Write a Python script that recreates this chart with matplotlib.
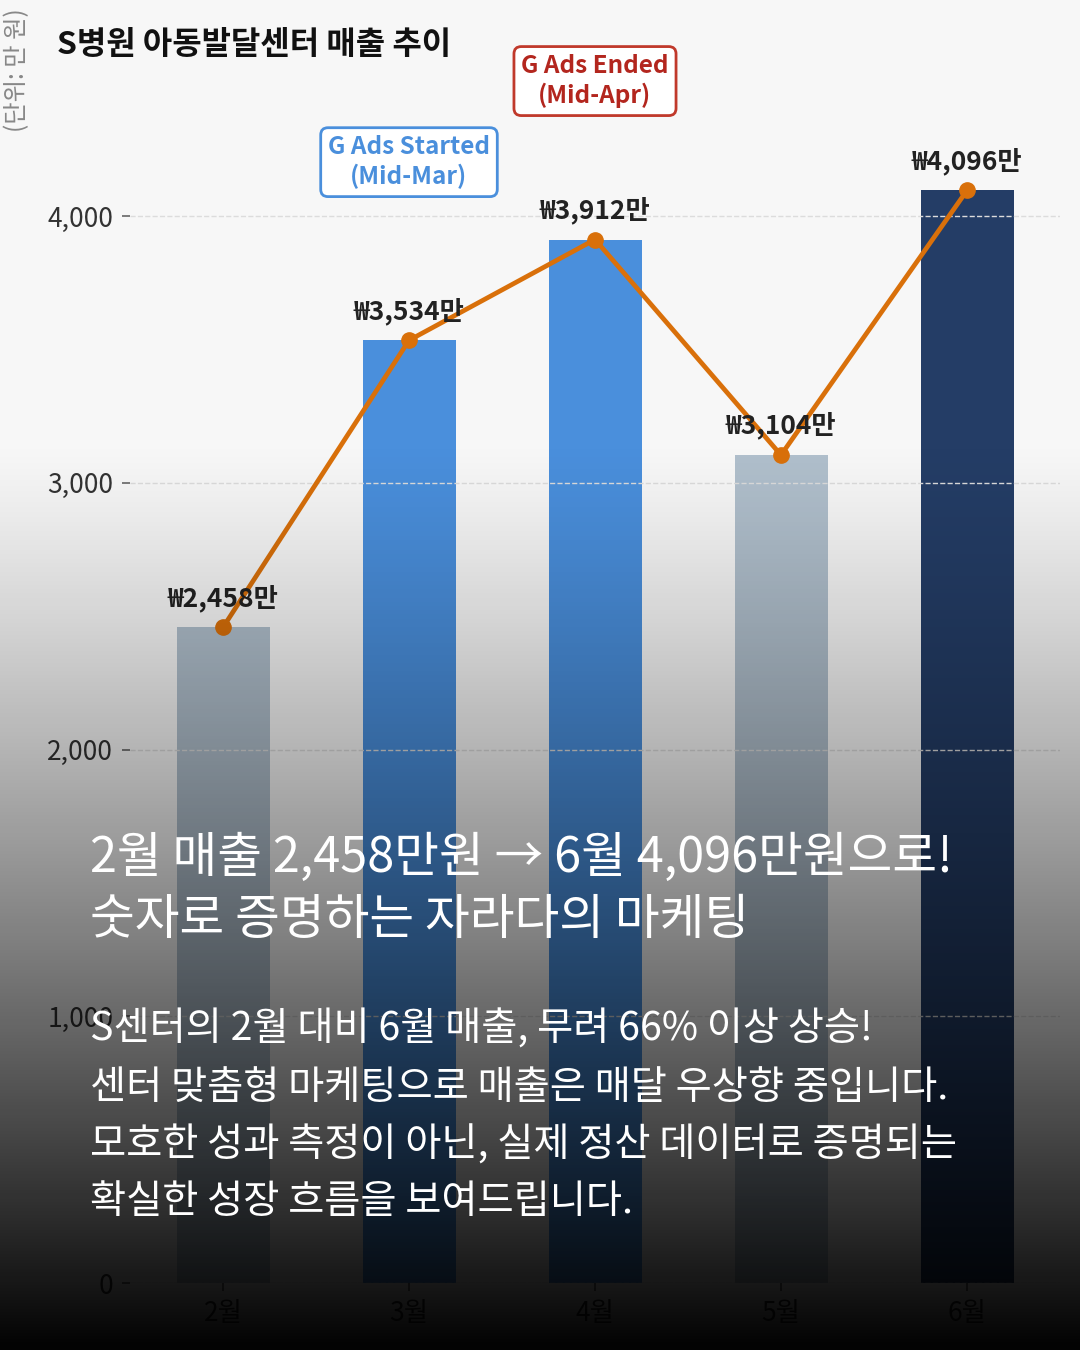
import numpy as np
import matplotlib
matplotlib.use("Agg")
import matplotlib.pyplot as plt

plt.rcParams['font.family'] = ['Noto Sans CJK KR', 'DejaVu Sans']

# 데이터 (단위: 만 원)
months = ['2월', '3월', '4월', '5월', '6월']
sales = [2458, 3534, 3912, 3104, 4096]
bar_colors = ['#b0bfcc', '#4a8fdc', '#4a8fdc', '#b0bfcc', '#243d66']
yticks = [0, 1000, 2000, 3000, 4000]

W, H = 1080, 1350
BG = '#f7f7f7'

fig = plt.figure(figsize=(W / 100, H / 100), dpi=100, facecolor=BG)
ax = fig.add_axes([130 / W, 67 / H, 930 / W, 1227 / H], facecolor=BG)

x = np.arange(len(months))
ax.bar(x, sales, width=0.5, color=bar_colors, zorder=2)
ax.plot(x, sales, color='#d9700a', lw=3.4, marker='o', ms=11, zorder=4)

for xi, v in zip(x, sales):
    ax.annotate(f'₩{v:,}만', (xi, v), xytext=(0, 21), textcoords='offset points',
                ha='center', va='center', fontsize=19, fontweight='bold',
                color='#222222', zorder=5)

# 광고 시작/종료 박스
ax.text(1, 4202, 'G Ads Started\n(Mid-Mar)', ha='center', va='center',
        fontsize=17.5, fontweight='bold', color='#4a8fdc', linespacing=1.25,
        bbox=dict(boxstyle='round,pad=0.3', fc='white', ec='#4a8fdc', lw=2), zorder=6)
ax.text(2, 4506, 'G Ads Ended\n(Mid-Apr)', ha='center', va='center',
        fontsize=17.5, fontweight='bold', color='#b3261e', linespacing=1.25,
        bbox=dict(boxstyle='round,pad=0.3', fc='white', ec='#c0392b', lw=2), zorder=6)

ax.set_xlim(-0.5, 4.5)
ax.set_ylim(0, 4600)
ax.set_xticks(x)
ax.set_xticklabels(months, fontsize=19, color='#333333')
ax.set_yticks(yticks)
ax.set_yticklabels([f'{t:,}' for t in yticks], fontsize=19, color='#333333')
ax.tick_params(axis='both', length=6, width=1.2, color='#666666', pad=6)
for s in ax.spines.values():
    s.set_visible(False)
ax.set_axisbelow(False)
ax.yaxis.grid(True, linestyle='--', color='#dcdcdc', lw=1, zorder=3)

fig.text(57 / W, 1 - 45 / H, 'S병원 아동발달센터 매출 추이', fontsize=23,
         fontweight='bold', color='#111111', va='center', ha='left')
fig.text(17 / W, 1 - 70 / H, '(단위: 만 원)', fontsize=17.5, color='#888888',
         rotation=90, va='center', ha='center')

# 하단 어두운 그라데이션
ov = fig.add_axes([0, 0, 1, 1], zorder=5)
ov.axis('off')
rows = np.arange(H)
alpha = np.clip((rows - 440) / 910, 0, 1) ** 1.2
grad = np.zeros((H, 1, 4))
grad[..., 3] = np.clip(alpha, 0, 0.99)[:, None]
ov.imshow(grad, aspect='auto', extent=[0, 1, 0, 1])
ov.set_xlim(0, 1)
ov.set_ylim(0, 1)

fig.text(90 / W, 1 - 858 / H, '2월 매출 2,458만원 → 6월 4,096만원으로!',
         fontsize=35, fontweight='medium', color='white', va='center', ha='left', zorder=10)
fig.text(90 / W, 1 - 920 / H, '숫자로 증명하는 자라다의 마케팅',
         fontsize=35, fontweight='medium', color='white', va='center', ha='left', zorder=10)

body = ['S센터의 2월 대비 6월 매출, 무려 66% 이상 상승!',
        '센터 맞춤형 마케팅으로 매출은 매달 우상향 중입니다.',
        '모호한 성과 측정이 아닌, 실제 정산 데이터로 증명되는',
        '확실한 성장 흐름을 보여드립니다.']
for i, line in enumerate(body):
    fig.text(90 / W, 1 - (1030 + i * 57.5) / H, line, fontsize=28.3,
             color='white', va='center', ha='left', zorder=10)

fig.savefig('out.png', dpi=100, facecolor=BG)
